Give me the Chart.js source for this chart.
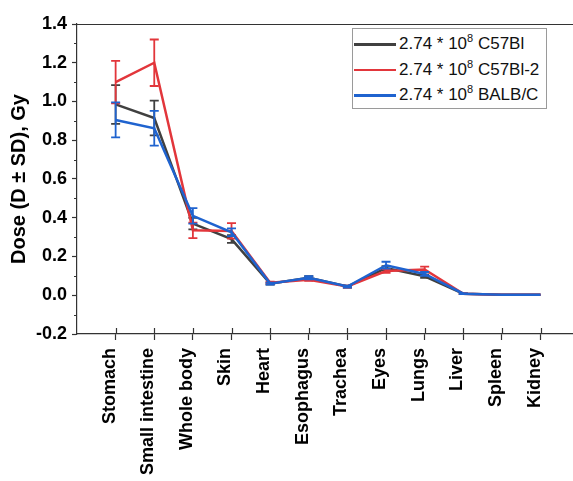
<!DOCTYPE html>
<html><head><meta charset="utf-8">
<script src="https://cdn.jsdelivr.net/npm/chart.js@4.4.1/dist/chart.umd.min.js"></script>
<style>
html,body{margin:0;padding:0;background:#fff;}
#wrap{position:relative;width:573px;height:481px;overflow:hidden;background:#fff;}
#legend{position:absolute;left:352px;top:28px;width:195px;height:81px;border:1px solid #9a9a9a;background:#fff;font-family:"Liberation Sans",Arial,sans-serif;font-size:17px;color:#111;box-sizing:border-box;}
.row{position:absolute;left:0;height:20px;line-height:20px;white-space:nowrap;}
.sw{position:absolute;left:1px;top:9px;width:42px;height:2.5px;}
.tx{position:absolute;left:46px;top:0;}
.tx sup{font-size:11px;position:relative;top:-7px;vertical-align:baseline;line-height:0;}
</style></head>
<body>
<div id="wrap">
<canvas id="c" width="573" height="481"></canvas>
<div id="legend"></div>
</div>
<script>
// ---- data ----
const categories = ["Stomach","Small intestine","Whole body","Skin","Heart","Esophagus","Trachea","Eyes","Lungs","Liver","Spleen","Kidney"];
const seriesNames = ["2.74 * 10|8| C57Bl","2.74 * 10|8| C57Bl-2","2.74 * 10|8| BALB/C"];
const c57bl    = [0.985, 0.915, 0.37, 0.29, 0.060, 0.090, 0.045, 0.140, 0.098, 0.008, 0.003, 0.002];
const c57blSD  = [0.10, 0.09, 0.03, 0.02, 0.005, 0.008, 0.005, 0.010, 0.008, 0.002, 0, 0];
const c57bl2   = [1.10, 1.20, 0.335, 0.332, 0.065, 0.080, 0.045, 0.125, 0.133, 0.008, 0.003, 0.002];
const c57bl2SD = [0.11, 0.12, 0.04, 0.04, 0.005, 0.006, 0.005, 0.010, 0.015, 0.002, 0, 0];
const balbc    = [0.905, 0.862, 0.41, 0.325, 0.060, 0.090, 0.045, 0.155, 0.110, 0.008, 0.003, 0.002];
const balbcSD  = [0.09, 0.09, 0.04, 0.02, 0.005, 0.008, 0.005, 0.018, 0.010, 0.002, 0, 0];
const yTickValues = [-0.2, 0.0, 0.2, 0.4, 0.6, 0.8, 1.0, 1.2, 1.4];

const colors = ["#404040", "#e2363b", "#1f63cf"];
const FONT = "'Liberation Sans', Arial, Helvetica, sans-serif";

function pts(arr){ return arr.map((v,i)=>({x:i+1, y:v})); }

const datasets = [
  {label: seriesNames[0], data: pts(c57bl),  errors: c57blSD,  borderColor: colors[0], order: 2},
  {label: seriesNames[1], data: pts(c57bl2), errors: c57bl2SD, borderColor: colors[1], order: 1},
  {label: seriesNames[2], data: pts(balbc),  errors: balbcSD,  borderColor: colors[2], order: 0}
].map(d => Object.assign(d, {borderWidth: 2.5, pointRadius: 0, tension: 0, fill: false, backgroundColor: d.borderColor}));

// legend (HTML text with superscript)
const leg = document.getElementById('legend');
seriesNames.forEach((n,i)=>{
  const p = n.split('|');
  const row = document.createElement('div');
  row.className = 'row';
  row.style.top = (5 + i*25.5) + 'px';
  row.innerHTML = '<span class="sw" style="background:'+colors[i]+'"></span><span class="tx">'+p[0]+'<sup>'+p[1]+'</sup>'+p[2]+'</span>';
  leg.appendChild(row);
});

const errorBars = {
  id: 'errorBars',
  afterDatasetDraw(chart, args){
    const ds = chart.data.datasets[args.index];
    const ys = chart.scales.y, ctx = chart.ctx;
    ctx.save();
    ctx.strokeStyle = ds.borderColor; ctx.lineWidth = 1.8;
    args.meta.data.forEach((pt,i)=>{
      const e = ds.errors[i]; if(!e) return;
      const v = ds.data[i].y;
      const yt = ys.getPixelForValue(v+e), yb = ys.getPixelForValue(v-e), x = pt.x;
      ctx.beginPath();
      ctx.moveTo(x,yt); ctx.lineTo(x,yb);
      ctx.moveTo(x-4.5,yt); ctx.lineTo(x+4.5,yt);
      ctx.moveTo(x-4.5,yb); ctx.lineTo(x+4.5,yb);
      ctx.stroke();
    });
    ctx.restore();
  }
};

const axisExtras = {
  id: 'axisExtras',
  afterDraw(chart){
    const ctx = chart.ctx, a = chart.chartArea, ys = chart.scales.y, xs = chart.scales.x;
    ctx.save();
    ctx.strokeStyle = '#333'; ctx.lineWidth = 1.2;
    ctx.beginPath();
    // top border
    ctx.moveTo(a.left, a.top + 0.5); ctx.lineTo(a.right, a.top + 0.5);
    // minor y ticks
    for (let k = 0; k < yTickValues.length - 1; k++){
      const v = (yTickValues[k] + yTickValues[k+1]) / 2;
      const y = Math.round(ys.getPixelForValue(v)) + 0.5;
      ctx.moveTo(a.left - 3, y); ctx.lineTo(a.left, y);
    }
    // inner part of x ticks
    categories.forEach((c,i)=>{
      const x = Math.round(xs.getPixelForValue(i+1)) + 0.5;
      ctx.moveTo(x, a.bottom); ctx.lineTo(x, a.bottom - 6);
    });
    ctx.stroke();
    ctx.restore();
  }
};

new Chart(document.getElementById('c'), {
  type: 'line',
  data: { datasets },
  plugins: [errorBars, axisExtras],
  options: {
    responsive: false,
    animation: false,
    devicePixelRatio: 1,
    layout: { padding: { top: 24, right: 0, left: 0, bottom: 0 } },
    plugins: { legend: { display: false }, tooltip: { enabled: false } },
    scales: {
      x: {
        type: 'linear', min: 0, max: 12.84,
        afterFit(s){ s.height = 147; },
        afterBuildTicks(s){ s.ticks = categories.map((c,i)=>({value: i+1})); },
        ticks: {
          autoSkip: false, maxRotation: 90, minRotation: 90, padding: 8, labelOffset: -6,
          color: '#000', font: { family: FONT, size: 18, weight: 'bold' },
          callback: (v) => categories[v-1] || ''
        },
        grid: { drawOnChartArea: false, drawTicks: true, tickLength: 6, color: '#333', tickWidth: 1.2 },
        border: { display: true, color: '#333', width: 1.2 }
      },
      y: {
        min: -0.2, max: 1.4,
        afterFit(s){ s.width = 77; },
        afterBuildTicks(s){ s.ticks = yTickValues.map(v=>({value: v})); },
        ticks: {
          padding: 5, color: '#000', font: { family: FONT, size: 18, weight: 'bold' },
          callback: (v) => Number(v).toFixed(1)
        },
        grid: { drawOnChartArea: false, drawTicks: true, tickLength: 5, color: '#333', tickWidth: 1.2 },
        border: { display: true, color: '#333', width: 1.2 },
        title: { display: true, text: 'Dose (D ± SD), Gy', color: '#000', font: { family: FONT, size: 20, weight: 'bold' }, padding: { top: 7, bottom: 0 } }
      }
    }
  }
});
</script>
</body></html>
